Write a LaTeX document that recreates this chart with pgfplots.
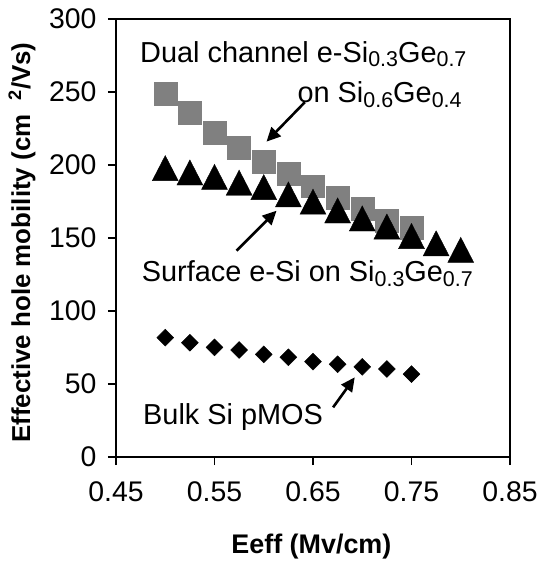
\documentclass[border=0pt]{standalone}
\usepackage{fontspec}
\setmainfont{Liberation Sans}
\usepackage{pgfplots}
\pgfplotsset{compat=1.18}
\usetikzlibrary{arrows.meta}
\definecolor{sqgray}{RGB}{128,128,128}
\newcommand{\sub}[1]{\raisebox{-0.32ex}{\fontsize{21.5}{22}\selectfont #1}}
\newcommand{\annfont}{\fontsize{29}{34}\selectfont}
\begin{document}
\begin{tikzpicture}
\begin{axis}[
  name=ax,
  scale only axis,
  width=394bp, height=438bp,
  xmin=0.45, xmax=0.85, ymin=0, ymax=300,
  xtick={0.45,0.55,0.65,0.75,0.85},
  xticklabels={0.45,0.55,0.65,0.75,0.85},
  ytick={0,50,100,150,200,250,300},
  xtick pos=bottom, ytick pos=left,
  tick align=outside,
  major tick length=8bp,
  axis line style={line width=1.7bp},
  every tick/.style={black, line width=1.2bp},
  /pgf/number format/assume math mode=true,
  ticklabel style={font=\fontsize{28.5}{32}\selectfont},
  yticklabel style={xshift=-8bp},
  xticklabel style={yshift=-13bp},
  every axis x label/.style={at={(axis description cs:0.496,-0.2043)}, anchor=center},
  every axis y label/.style={at={(axis description cs:-0.2386,0.4897)}, anchor=center, rotate=90},
  label style={font=\bfseries\fontsize{26}{30}\selectfont},
  xlabel={\fontsize{27}{31}\selectfont Eeff (Mv/cm)},
  ylabel={Effective hole mobility (cm\hspace{14bp}\textsuperscript{2}/Vs)},
  clip=false,
]
% Dual channel e-SiGe (gray squares)
\addplot[only marks, mark=square*, mark size=11.5, color=sqgray, mark options={draw=sqgray, fill=sqgray}] coordinates {
 (0.500,249) (0.525,236) (0.550,222) (0.575,212) (0.600,202.5) (0.625,194)
 (0.650,185.5) (0.675,177.5) (0.700,170) (0.725,162) (0.750,157)
};
% Surface e-Si (black triangles)
\addplot[only marks, mark=triangle*, mark size=15, color=black, mark options={fill=black, yscale=1.12}] coordinates {
 (0.500,195) (0.525,192) (0.550,189) (0.575,185) (0.600,182) (0.625,177)
 (0.650,172) (0.675,166) (0.700,160.5) (0.725,155) (0.750,148.5) (0.775,143.5) (0.800,139)
};
% Bulk Si pMOS (black diamonds)
\addplot[only marks, mark=square*, mark size=6, color=black, mark options={fill=black, rotate=45}] coordinates {
 (0.500,81.7) (0.525,78.3) (0.550,75.1) (0.575,73.3) (0.600,70.3) (0.625,68.3)
 (0.650,65.3) (0.675,63.5) (0.700,61.8) (0.725,60.3) (0.750,56.8)
};
\node[anchor=base west, inner sep=0pt, font=\annfont] at (axis cs:0.4744,270.5) {Dual channel e-Si\sub{0.3}Ge\sub{0.7}};
\node[anchor=base east, inner sep=0pt, font=\annfont] at (axis cs:0.801,242.5) {on Si\sub{0.6}Ge\sub{0.4}};
\node[anchor=base west, inner sep=0pt, font=\annfont] at (axis cs:0.476,120) {Surface e-Si on Si\sub{0.3}Ge\sub{0.7}};
\node[anchor=base west, inner sep=0pt, font=\annfont] at (axis cs:0.4774,22.6) {Bulk Si pMOS};
\draw[line width=2.6bp, -{Triangle[length=14bp,width=13bp]}] (axis cs:0.6417,243) -- (axis cs:0.6028,216);
\draw[line width=2.6bp, -{Triangle[length=14bp,width=13bp]}] (axis cs:0.5724,141.3) -- (axis cs:0.613,168.7);
\draw[line width=2.6bp, -{Triangle[length=14bp,width=13bp]}] (axis cs:0.6704,34) -- (axis cs:0.6924,54.6);
\end{axis}
\pgfresetboundingbox
\path[use as bounding box] ([xshift=-116bp,yshift=-108bp]ax.south west) rectangle ([xshift=27bp,yshift=19bp]ax.north east);
\end{tikzpicture}
\end{document}
